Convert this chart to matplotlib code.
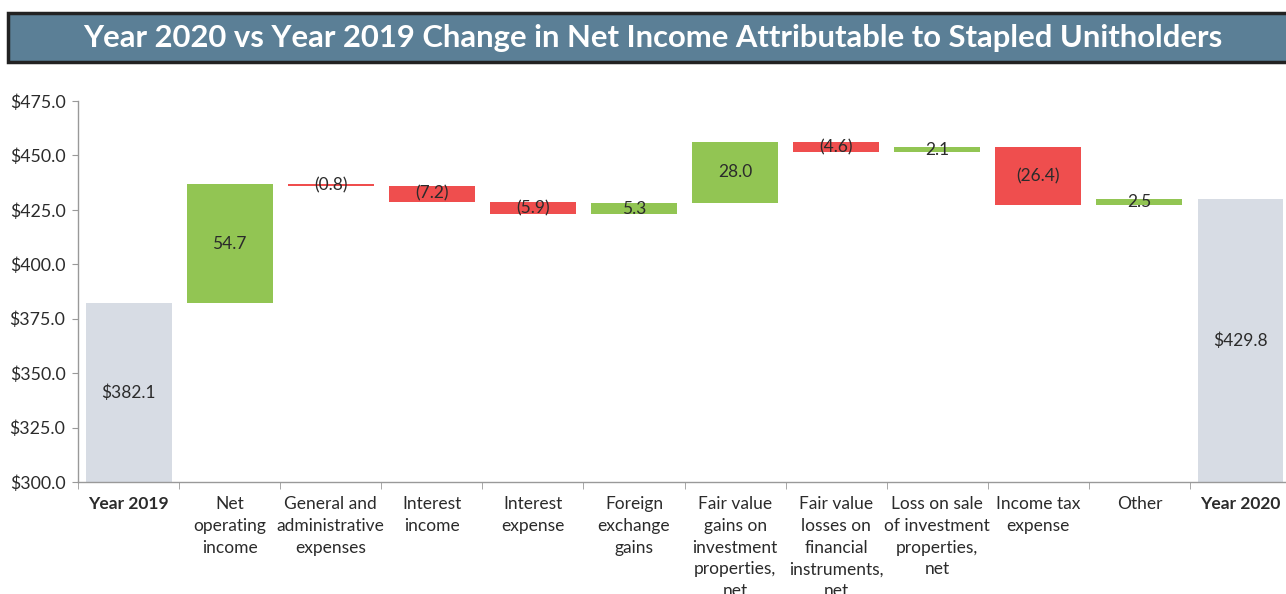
import matplotlib
matplotlib.use("Agg")
import matplotlib.pyplot as plt
from matplotlib.patches import Rectangle
from matplotlib.ticker import FuncFormatter, FixedLocator

plt.rcParams["font.family"] = ["Lato", "DejaVu Sans"]

categories = [
    "Year 2019", "Net\noperating\nincome", "General and\nadministrative\nexpenses",
    "Interest\nincome", "Interest\nexpense", "Foreign\nexchange\ngains",
    "Fair value\ngains on\ninvestment\nproperties,\nnet",
    "Fair value\nlosses on\nfinancial\ninstruments,\nnet",
    "Loss on sale\nof investment\nproperties,\nnet",
    "Income tax\nexpense", "Other", "Year 2020",
]
start_value = 382.1
changes = [54.7, -0.8, -7.2, -5.9, 5.3, 28.0, -4.6, 2.1, -26.4, 2.5]
end_value = 429.8

GREEN = "#92C553"
RED = "#EF4E4E"
GREY = "#D7DCE4"
TEXT = "#2b2b2b"
floor = 300.0

fig = plt.figure(figsize=(12.86, 5.94), dpi=100)

# title banner
fig.patches.append(Rectangle((8 / 1286, 1 - 62 / 594), 1.0, 49 / 594, transform=fig.transFigure,
                             facecolor="#5B7F96", edgecolor="#222222", linewidth=2.5, zorder=0))
fig.text(0.508, 1 - 38 / 594, "Year 2020 vs Year 2019 Change in Net Income Attributable to Stapled Unitholders",
         ha="center", va="center", color="white", fontsize=22.3, fontweight="bold")

ax = fig.add_axes([78 / 1286, 1 - 482 / 594, 1 - 78 / 1286, (482 - 101) / 594])

# endpoints
for i, v in [(0, start_value), (len(categories) - 1, end_value)]:
    ax.bar(i, v - floor, bottom=floor, width=0.85, color=GREY)
    ax.text(i, (v + floor) / 2, f"${v:.1f}", ha="center", va="center", fontsize=12.5, color=TEXT)

level = start_value
for k, d in enumerate(changes):
    i = k + 1
    lo = min(level, level + d)
    ax.bar(i, abs(d), bottom=lo, width=0.85, color=GREEN if d > 0 else RED)
    lab = f"{d:.1f}" if d > 0 else f"({-d:.1f})"
    ax.text(i, lo + abs(d) / 2, lab, ha="center", va="center", fontsize=12.5, color=TEXT)
    level += d

ax.set_xlim(-0.5, 11.45)
ax.set_ylim(300, 475)
ax.set_yticks([300 + 25 * j for j in range(8)])
ax.yaxis.set_major_formatter(FuncFormatter(lambda v, p: f"${v:.1f}"))
ax.set_xticks(range(len(categories)))
ax.set_xticklabels(categories, fontsize=12.5, color=TEXT, va="top", linespacing=1.45)
for j, t in enumerate(ax.get_xticklabels()):
    if j in (0, len(categories) - 1):
        t.set_fontweight("bold")
ax.xaxis.set_minor_locator(FixedLocator([i + 0.5 for i in range(-1, len(categories))]))
ax.tick_params(axis="x", which="major", length=0, pad=10)
ax.tick_params(axis="x", which="minor", length=5, color="#999999")
ax.tick_params(axis="y", length=4, color="#999999", labelsize=12.8, labelcolor=TEXT, pad=5)
for s in ("top", "right"):
    ax.spines[s].set_visible(False)
for s in ("left", "bottom"):
    ax.spines[s].set_color("#999999")
    ax.spines[s].set_linewidth(1)

fig.savefig("out.png", dpi=100)
